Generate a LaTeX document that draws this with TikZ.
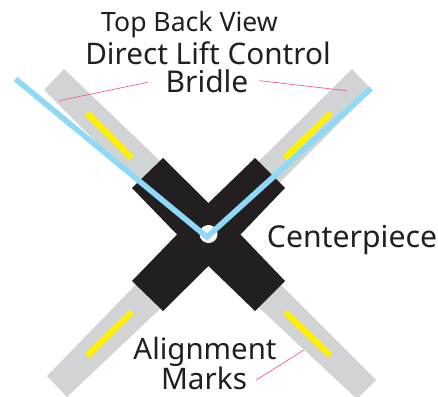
\documentclass[tikz,border=0pt]{standalone}
\usepackage{fontspec}
\setmainfont{Noto Sans}
\definecolor{armgrey}{HTML}{D1D3D4}
\definecolor{markyellow}{HTML}{FFF200}
\definecolor{bridleblue}{HTML}{8ED8F8}
\definecolor{leaderpink}{HTML}{EE5F8A}
\definecolor{inkblack}{HTML}{231F20}
\tikzset{
  arm/.style={fill=armgrey,draw=none},
  alignmark/.style={draw=markyellow,line width=6pt,line cap=butt},
  bridle/.style={draw=bridleblue,line width=5.6pt,miter limit=10},
  leader/.style={draw=leaderpink,line width=0.7pt},
  label/.style={text=inkblack,inner sep=0pt,anchor=base},
}
\begin{document}
\begin{tikzpicture}[x=1pt,y=-1pt]
\useasboundingbox (0,0) rectangle (438,396);
\begin{scope}
\clip (0,0) rectangle (438,396);
% arms
\fill[arm] (64,69) -- (44,90) -- (150,196) -- (180,180) -- cycle;
\fill[arm] (352,69) -- (372,90) -- (266,196) -- (240,180) -- cycle;
\fill[arm] (47,376) -- (67,397) -- (180,290) -- (150,270) -- cycle;
\fill[arm] (376,380) -- (357,399) -- (240,290) -- (266,270) -- cycle;
% alignment marks
\draw[alignmark] (87,113) -- (131.7,158);
\draw[alignmark] (331,113) -- (285,158);
\draw[alignmark] (131.7,312) -- (87,356);
\draw[alignmark] (285.3,312) -- (330.7,356);
% centerpiece
\fill[inkblack] (163,158) -- (208.5,203) -- (255,158) -- (285,188) -- (240.5,234.5) -- (285,281) -- (255,311) -- (208.5,266) -- (163,311) -- (132,281) -- (177,234.5) -- (132,188) -- cycle;
\fill[white] (208.5,234) circle (9);
\end{scope}
% bridle
\coordinate (bl) at (15.5,79);
\coordinate (bv) at (207,237);
\coordinate (br) at (371,88.5);
\draw[bridle] (bl) -- (bv) -- (br);
% labels
\node[label,font=\fontsize{26.6}{27}\selectfont] (tbv) at (189.5,32) {Top Back View};
\node[label,font=\fontsize{29.7}{30}\selectfont] (dlc) at (208,64) {Direct Lift Control};
\node[label,font=\fontsize{30}{30}\selectfont] (bri) at (207,92.7) {Bridle};
\node[label,font=\fontsize{30.2}{30}\selectfont] (cen) at (352,247.3) {Centerpiece};
\node[label,font=\fontsize{29.4}{30}\selectfont] (ali) at (205,359.7) {Alignment};
\node[label,font=\fontsize{29.7}{30}\selectfont] (mar) at (204,389) {Marks};
% leaders
\coordinate (l1a) at (59,100.7);  \coordinate (l1b) at (147.7,82.3);
\coordinate (l2a) at (259.7,80.7); \coordinate (l2b) at (346.7,90.7);
\coordinate (l3a) at (304,350);   \coordinate (l3b) at (256.3,380);
\draw[leader] (l1a) -- (l1b);
\draw[leader] (l2a) -- (l2b);
\draw[leader] (l3a) -- (l3b);
\end{tikzpicture}
\end{document}
